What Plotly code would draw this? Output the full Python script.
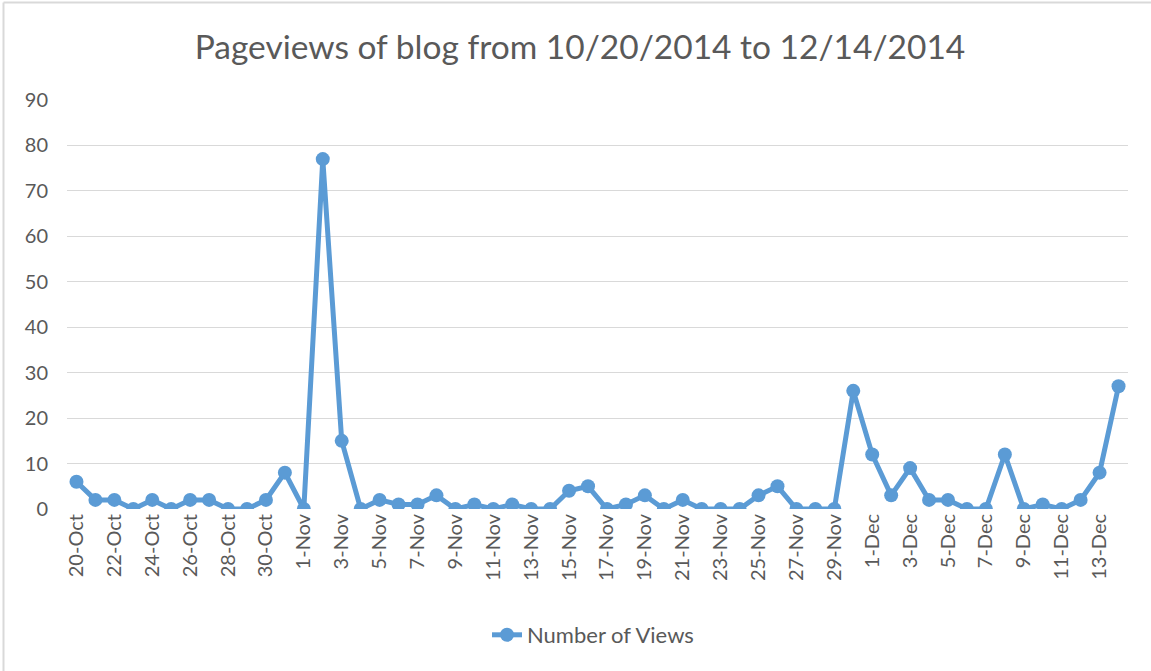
import plotly.graph_objects as go
import datetime as dt

start = dt.date(2014, 10, 20)
views = [6, 2, 2, 0, 2, 0, 2, 2, 0, 0, 2, 8,
         0, 77, 15, 0, 2, 1, 1, 3, 0, 1, 0, 1, 0, 0, 4, 5, 0, 1, 3, 0, 2, 0, 0, 0, 3, 5, 0, 0, 0, 26,
         12, 3, 9, 2, 2, 0, 0, 12, 0, 1, 0, 2, 8, 27]
dates = [start + dt.timedelta(days=i) for i in range(len(views))]
categories = [f"{d.day}-{d.strftime('%b')}" for d in dates]
tick_labels = categories[::2]
series_name = "Number of Views"
title_text = "Pageviews of blog from 10/20/2014 to 12/14/2014"
y_ticks = list(range(0, 91, 10))

W, H = 1151, 671
L, R, T, B = 67, 23, 100, 162
pw, ph = W - L - R, H - T - B

def px(x):
    return (x - L) / pw

def py(y):
    return (H - B - y) / ph

color = "#5B9BD5"
gray = "#595959"
border = "#D9D9D9"
font = "Lato"

fig = go.Figure()
fig.add_trace(go.Scatter(
    x=list(range(len(views))), y=views, mode="lines+markers", name=series_name,
    line=dict(color=color, width=5),
    marker=dict(color=color, size=14),
))

fig.update_layout(
    width=W, height=H,
    margin=dict(l=L, r=R, t=T, b=B, autoexpand=False),
    paper_bgcolor="white", plot_bgcolor="white",
    title=dict(text=title_text, x=px(580), xref="paper", xanchor="center",
               y=1 - 47 / H, yref="container", yanchor="middle",
               font=dict(family=font, size=33.5, color=gray)),
    font=dict(family=font, color=gray),
    showlegend=True,
    legend=dict(orientation="h", x=px(593), xanchor="center", y=py(635), yanchor="middle",
                font=dict(family=font, size=22, color=gray), bgcolor="rgba(0,0,0,0)"),
    xaxis=dict(
        range=[-0.5, len(views) - 0.5],
        tickmode="array",
        tickvals=list(range(0, len(views), 2)),
        ticktext=tick_labels,
        tickangle=-90,
        tickfont=dict(family=font, size=20, color=gray),
        showgrid=False, zeroline=False, showline=False, ticks="",
    ),
    yaxis=dict(
        range=[0, 90],
        tickvals=y_ticks,
        tickfont=dict(family=font, size=20, color=gray),
        showgrid=True, gridcolor=border, gridwidth=1.3,
        zeroline=False, showline=False, ticks="", ticklabelstandoff=18,
    ),
    shapes=[
        dict(type="line", xref="paper", yref="paper",
             x0=px(3.5), x1=px(1151), y0=py(2.5), y1=py(2.5),
             line=dict(color=border, width=2), layer="below"),
        dict(type="line", xref="paper", yref="paper",
             x0=px(3.5), x1=px(3.5), y0=py(2.5), y1=py(671),
             line=dict(color=border, width=2), layer="below"),
    ],
)

fig.write_html("out.html", config={"displayModeBar": False},
               post_script="document.body.style.margin='0';")
